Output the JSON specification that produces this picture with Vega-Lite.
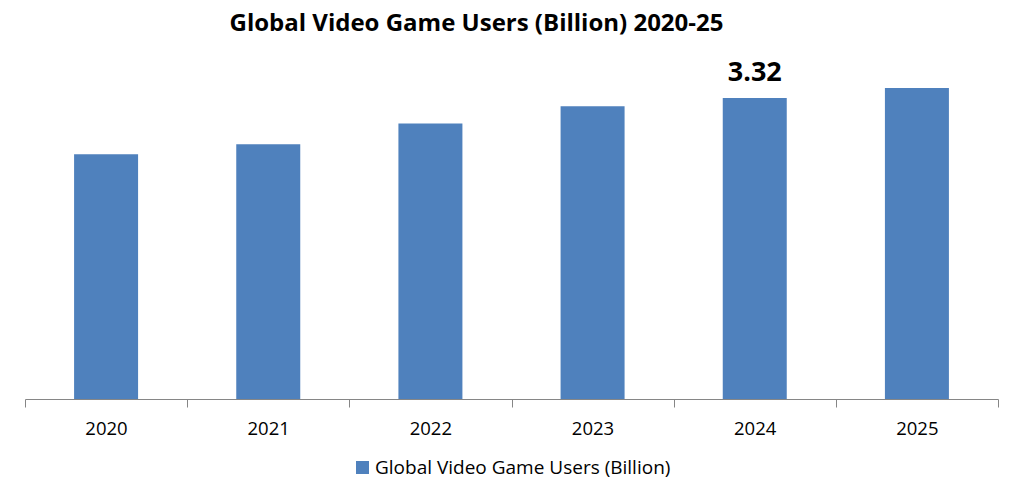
{
  "$schema": "https://vega.github.io/schema/vega-lite/v6.json",
  "autosize": "none",
  "width": 973,
  "height": 349,
  "padding": {"left": 25, "top": 50, "right": 26, "bottom": 104},
  "background": "white",
  "config": {"view": {"stroke": null}},
  "title": {
    "text": "Global Video Game Users (Billion) 2020-25",
    "font": "Open Sans",
    "fontSize": 24,
    "fontWeight": "bold",
    "color": "#000000",
    "offset": 14,
    "dx": -35
  },
  "data": {
    "values": [
      {"Year": 2020, "Users": 2.70, "Series": "Global Video Game Users (Billion)"},
      {"Year": 2021, "Users": 2.81, "Series": "Global Video Game Users (Billion)"},
      {"Year": 2022, "Users": 3.04, "Series": "Global Video Game Users (Billion)"},
      {"Year": 2023, "Users": 3.23, "Series": "Global Video Game Users (Billion)"},
      {"Year": 2024, "Users": 3.32, "Series": "Global Video Game Users (Billion)"},
      {"Year": 2025, "Users": 3.43, "Series": "Global Video Game Users (Billion)"}
    ]
  },
  "encoding": {
    "x": {
      "field": "Year",
      "type": "quantitative",
      "scale": {"domain": [2019.5, 2025.5], "nice": false, "zero": false, "padding": 0},
      "axis": {
        "title": null,
        "values": [2019.5, 2020.5, 2021.5, 2022.5, 2023.5, 2024.5, 2025.5],
        "labelExpr": "datum.value > 2025 ? '' : format(datum.value + 0.5, 'd')",
        "labelOffset": 81,
        "labelOverlap": false,
        "labelFlush": false,
        "labelBound": false,
        "labelFont": "Open Sans",
        "labelFontSize": 18.5,
        "labelColor": "#000000",
        "labelPadding": 12,
        "tickSize": 8,
        "tickColor": "#868686",
        "domainColor": "#868686",
        "grid": false
      }
    },
    "y": {
      "field": "Users",
      "type": "quantitative",
      "scale": {"domain": [0, 3.85], "nice": false},
      "axis": null
    }
  },
  "layer": [
    {
      "mark": {"type": "bar", "width": 64},
      "encoding": {
        "color": {
          "field": "Series",
          "type": "nominal",
          "scale": {"range": ["#4F81BD"]},
          "legend": {
            "title": null,
            "orient": "none",
            "legendX": 328,
            "legendY": 408,
            "symbolType": "square",
            "symbolSize": 170,
            "symbolStrokeWidth": 0,
            "labelOffset": 3,
            "labelFont": "Open Sans",
            "labelFontSize": 19,
            "labelColor": "#000000",
            "labelLimit": 500
          }
        }
      }
    },
    {
      "transform": [{"filter": "datum.Year == 2024"}],
      "mark": {
        "type": "text",
        "baseline": "alphabetic",
        "dy": -17,
        "font": "Open Sans",
        "fontSize": 27,
        "fontWeight": "bold",
        "color": "#000000"
      },
      "encoding": {
        "text": {"field": "Users", "type": "quantitative", "format": ".2f"}
      }
    }
  ]
}
